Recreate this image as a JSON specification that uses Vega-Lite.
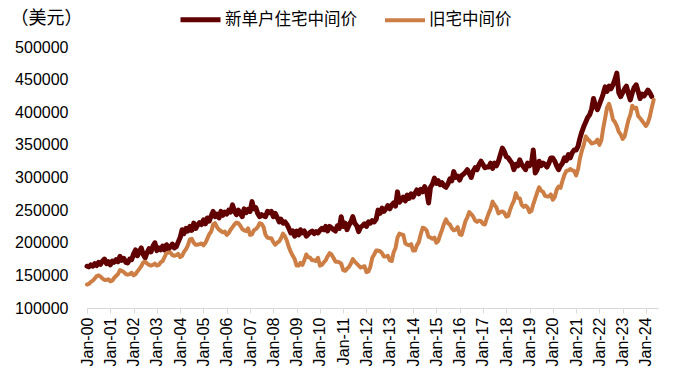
{
  "$schema": "https://vega.github.io/schema/vega-lite/v6.json",
  "autosize": "none",
  "width": 571,
  "height": 261,
  "padding": {"left": 87, "top": 47, "right": 38, "bottom": 70},
  "background": "white",
  "config": {"view": {"stroke": null}},
  "data": {"values": [
{"d":"2000-01-01","n":164000,"e":136000},{"d":"2000-02-01","n":163000,"e":137000},{"d":"2000-03-01","n":166000,"e":140000},{"d":"2000-04-01","n":164000,"e":142000},{"d":"2000-05-01","n":168000,"e":145000},{"d":"2000-06-01","n":165000,"e":149000},{"d":"2000-07-01","n":170000,"e":150000},{"d":"2000-08-01","n":167000,"e":148000},{"d":"2000-09-01","n":172000,"e":145000},{"d":"2000-10-01","n":175000,"e":143000},{"d":"2000-11-01","n":168000,"e":143000},{"d":"2000-12-01","n":171000,"e":144000},
{"d":"2001-01-01","n":166000,"e":141000},{"d":"2001-02-01","n":172000,"e":142000},{"d":"2001-03-01","n":170000,"e":146000},{"d":"2001-04-01","n":174000,"e":149000},{"d":"2001-05-01","n":171000,"e":152000},{"d":"2001-06-01","n":179000,"e":158000},{"d":"2001-07-01","n":173000,"e":157000},{"d":"2001-08-01","n":176000,"e":155000},{"d":"2001-09-01","n":170000,"e":152000},{"d":"2001-10-01","n":169000,"e":151000},{"d":"2001-11-01","n":175000,"e":152000},{"d":"2001-12-01","n":174000,"e":154000},
{"d":"2002-01-01","n":183000,"e":150000},{"d":"2002-02-01","n":189000,"e":152000},{"d":"2002-03-01","n":180000,"e":156000},{"d":"2002-04-01","n":186000,"e":160000},{"d":"2002-05-01","n":192000,"e":164000},{"d":"2002-06-01","n":182000,"e":170000},{"d":"2002-07-01","n":177000,"e":171000},{"d":"2002-08-01","n":185000,"e":168000},{"d":"2002-09-01","n":191000,"e":166000},{"d":"2002-10-01","n":186000,"e":165000},{"d":"2002-11-01","n":195000,"e":166000},{"d":"2002-12-01","n":200000,"e":168000},
{"d":"2003-01-01","n":188000,"e":165000},{"d":"2003-02-01","n":192000,"e":166000},{"d":"2003-03-01","n":189000,"e":170000},{"d":"2003-04-01","n":195000,"e":172000},{"d":"2003-05-01","n":189000,"e":178000},{"d":"2003-06-01","n":197000,"e":184000},{"d":"2003-07-01","n":190000,"e":185000},{"d":"2003-08-01","n":194000,"e":185000},{"d":"2003-09-01","n":198000,"e":181000},{"d":"2003-10-01","n":192000,"e":180000},{"d":"2003-11-01","n":194000,"e":181000},{"d":"2003-12-01","n":201000,"e":183000},
{"d":"2004-01-01","n":208000,"e":178000},{"d":"2004-02-01","n":220000,"e":180000},{"d":"2004-03-01","n":214000,"e":186000},{"d":"2004-04-01","n":222000,"e":190000},{"d":"2004-05-01","n":218000,"e":196000},{"d":"2004-06-01","n":225000,"e":205000},{"d":"2004-07-01","n":219000,"e":206000},{"d":"2004-08-01","n":230000,"e":200000},{"d":"2004-09-01","n":222000,"e":197000},{"d":"2004-10-01","n":227000,"e":197000},{"d":"2004-11-01","n":231000,"e":198000},{"d":"2004-12-01","n":228000,"e":199000},
{"d":"2005-01-01","n":235000,"e":196000},{"d":"2005-02-01","n":229000,"e":200000},{"d":"2005-03-01","n":238000,"e":206000},{"d":"2005-04-01","n":233000,"e":213000},{"d":"2005-05-01","n":241000,"e":217000},{"d":"2005-06-01","n":248000,"e":228000},{"d":"2005-07-01","n":240000,"e":230000},{"d":"2005-08-01","n":244000,"e":224000},{"d":"2005-09-01","n":238000,"e":220000},{"d":"2005-10-01","n":248000,"e":218000},{"d":"2005-11-01","n":242000,"e":216000},{"d":"2005-12-01","n":247000,"e":217000},
{"d":"2006-01-01","n":244000,"e":212000},{"d":"2006-02-01","n":250000,"e":215000},{"d":"2006-03-01","n":247000,"e":220000},{"d":"2006-04-01","n":258000,"e":224000},{"d":"2006-05-01","n":249000,"e":228000},{"d":"2006-06-01","n":243000,"e":231000},{"d":"2006-07-01","n":250000,"e":230000},{"d":"2006-08-01","n":245000,"e":226000},{"d":"2006-09-01","n":240000,"e":221000},{"d":"2006-10-01","n":252000,"e":219000},{"d":"2006-11-01","n":246000,"e":218000},{"d":"2006-12-01","n":251000,"e":222000},
{"d":"2007-01-01","n":248000,"e":212000},{"d":"2007-02-01","n":263000,"e":213000},{"d":"2007-03-01","n":252000,"e":219000},{"d":"2007-04-01","n":254000,"e":221000},{"d":"2007-05-01","n":245000,"e":224000},{"d":"2007-06-01","n":240000,"e":230000},{"d":"2007-07-01","n":243000,"e":229000},{"d":"2007-08-01","n":241000,"e":224000},{"d":"2007-09-01","n":240000,"e":212000},{"d":"2007-10-01","n":248000,"e":208000},{"d":"2007-11-01","n":246000,"e":207000},{"d":"2007-12-01","n":248000,"e":207000},
{"d":"2008-01-01","n":240000,"e":201000},{"d":"2008-02-01","n":245000,"e":197000},{"d":"2008-03-01","n":239000,"e":200000},{"d":"2008-04-01","n":232000,"e":202000},{"d":"2008-05-01","n":236000,"e":207000},{"d":"2008-06-01","n":230000,"e":214000},{"d":"2008-07-01","n":232000,"e":210000},{"d":"2008-08-01","n":228000,"e":203000},{"d":"2008-09-01","n":222000,"e":193000},{"d":"2008-10-01","n":215000,"e":186000},{"d":"2008-11-01","n":218000,"e":180000},{"d":"2008-12-01","n":210000,"e":175000},
{"d":"2009-01-01","n":218000,"e":165000},{"d":"2009-02-01","n":212000,"e":165000},{"d":"2009-03-01","n":220000,"e":169000},{"d":"2009-04-01","n":215000,"e":166000},{"d":"2009-05-01","n":218000,"e":173000},{"d":"2009-06-01","n":210000,"e":182000},{"d":"2009-07-01","n":213000,"e":178000},{"d":"2009-08-01","n":216000,"e":177000},{"d":"2009-09-01","n":218000,"e":173000},{"d":"2009-10-01","n":214000,"e":173000},{"d":"2009-11-01","n":217000,"e":172000},{"d":"2009-12-01","n":215000,"e":177000},
{"d":"2010-01-01","n":219000,"e":165000},{"d":"2010-02-01","n":222000,"e":166000},{"d":"2010-03-01","n":220000,"e":170000},{"d":"2010-04-01","n":225000,"e":173000},{"d":"2010-05-01","n":218000,"e":179000},{"d":"2010-06-01","n":225000,"e":184000},{"d":"2010-07-01","n":223000,"e":182000},{"d":"2010-08-01","n":220000,"e":177000},{"d":"2010-09-01","n":218000,"e":171000},{"d":"2010-10-01","n":226000,"e":171000},{"d":"2010-11-01","n":222000,"e":170000},{"d":"2010-12-01","n":240000,"e":168000},
{"d":"2011-01-01","n":225000,"e":158000},{"d":"2011-02-01","n":230000,"e":157000},{"d":"2011-03-01","n":220000,"e":160000},{"d":"2011-04-01","n":227000,"e":163000},{"d":"2011-05-01","n":232000,"e":168000},{"d":"2011-06-01","n":240000,"e":175000},{"d":"2011-07-01","n":230000,"e":171000},{"d":"2011-08-01","n":226000,"e":168000},{"d":"2011-09-01","n":217000,"e":165000},{"d":"2011-10-01","n":224000,"e":162000},{"d":"2011-11-01","n":226000,"e":163000},{"d":"2011-12-01","n":229000,"e":164000},
{"d":"2012-01-01","n":225000,"e":155000},{"d":"2012-02-01","n":232000,"e":156000},{"d":"2012-03-01","n":230000,"e":163000},{"d":"2012-04-01","n":234000,"e":177000},{"d":"2012-05-01","n":232000,"e":182000},{"d":"2012-06-01","n":236000,"e":188000},{"d":"2012-07-01","n":250000,"e":188000},{"d":"2012-08-01","n":245000,"e":187000},{"d":"2012-09-01","n":253000,"e":184000},{"d":"2012-10-01","n":248000,"e":179000},{"d":"2012-11-01","n":252000,"e":179000},{"d":"2012-12-01","n":257000,"e":180000},
{"d":"2013-01-01","n":252000,"e":173000},{"d":"2013-02-01","n":258000,"e":172000},{"d":"2013-03-01","n":261000,"e":185000},{"d":"2013-04-01","n":256000,"e":192000},{"d":"2013-05-01","n":278000,"e":208000},{"d":"2013-06-01","n":262000,"e":214000},{"d":"2013-07-01","n":266000,"e":213000},{"d":"2013-08-01","n":270000,"e":212000},{"d":"2013-09-01","n":264000,"e":199000},{"d":"2013-10-01","n":273000,"e":197000},{"d":"2013-11-01","n":268000,"e":196000},{"d":"2013-12-01","n":275000,"e":198000},
{"d":"2014-01-01","n":270000,"e":188000},{"d":"2014-02-01","n":276000,"e":188000},{"d":"2014-03-01","n":281000,"e":196000},{"d":"2014-04-01","n":275000,"e":201000},{"d":"2014-05-01","n":282000,"e":213000},{"d":"2014-06-01","n":278000,"e":223000},{"d":"2014-07-01","n":286000,"e":222000},{"d":"2014-08-01","n":280000,"e":219000},{"d":"2014-09-01","n":261000,"e":209000},{"d":"2014-10-01","n":285000,"e":208000},{"d":"2014-11-01","n":290000,"e":206000},{"d":"2014-12-01","n":299000,"e":208000},
{"d":"2015-01-01","n":291000,"e":200000},{"d":"2015-02-01","n":295000,"e":203000},{"d":"2015-03-01","n":289000,"e":212000},{"d":"2015-04-01","n":292000,"e":220000},{"d":"2015-05-01","n":287000,"e":229000},{"d":"2015-06-01","n":285000,"e":236000},{"d":"2015-07-01","n":290000,"e":230000},{"d":"2015-08-01","n":298000,"e":228000},{"d":"2015-09-01","n":295000,"e":222000},{"d":"2015-10-01","n":309000,"e":219000},{"d":"2015-11-01","n":300000,"e":220000},{"d":"2015-12-01","n":302000,"e":224000},
{"d":"2016-01-01","n":296000,"e":213000},{"d":"2016-02-01","n":303000,"e":212000},{"d":"2016-03-01","n":305000,"e":222000},{"d":"2016-04-01","n":308000,"e":233000},{"d":"2016-05-01","n":312000,"e":239000},{"d":"2016-06-01","n":306000,"e":247000},{"d":"2016-07-01","n":300000,"e":244000},{"d":"2016-08-01","n":310000,"e":240000},{"d":"2016-09-01","n":315000,"e":234000},{"d":"2016-10-01","n":312000,"e":232000},{"d":"2016-11-01","n":320000,"e":234000},{"d":"2016-12-01","n":325000,"e":233000},
{"d":"2017-01-01","n":320000,"e":229000},{"d":"2017-02-01","n":315000,"e":228000},{"d":"2017-03-01","n":316000,"e":237000},{"d":"2017-04-01","n":316000,"e":245000},{"d":"2017-05-01","n":322000,"e":252000},{"d":"2017-06-01","n":314000,"e":263000},{"d":"2017-07-01","n":322000,"e":258000},{"d":"2017-08-01","n":318000,"e":254000},{"d":"2017-09-01","n":325000,"e":245000},{"d":"2017-10-01","n":335000,"e":247000},{"d":"2017-11-01","n":345000,"e":248000},{"d":"2017-12-01","n":340000,"e":246000},
{"d":"2018-01-01","n":332000,"e":240000},{"d":"2018-02-01","n":330000,"e":241000},{"d":"2018-03-01","n":326000,"e":250000},{"d":"2018-04-01","n":322000,"e":258000},{"d":"2018-05-01","n":312000,"e":264000},{"d":"2018-06-01","n":320000,"e":276000},{"d":"2018-07-01","n":318000,"e":269000},{"d":"2018-08-01","n":327000,"e":268000},{"d":"2018-09-01","n":320000,"e":258000},{"d":"2018-10-01","n":316000,"e":255000},{"d":"2018-11-01","n":312000,"e":257000},{"d":"2018-12-01","n":322000,"e":254000},
{"d":"2019-01-01","n":318000,"e":247000},{"d":"2019-02-01","n":322000,"e":249000},{"d":"2019-03-01","n":342000,"e":259000},{"d":"2019-04-01","n":307000,"e":268000},{"d":"2019-05-01","n":312000,"e":277000},{"d":"2019-06-01","n":325000,"e":285000},{"d":"2019-07-01","n":318000,"e":280000},{"d":"2019-08-01","n":322000,"e":278000},{"d":"2019-09-01","n":320000,"e":272000},{"d":"2019-10-01","n":316000,"e":271000},{"d":"2019-11-01","n":322000,"e":271000},{"d":"2019-12-01","n":330000,"e":274000},
{"d":"2020-01-01","n":330000,"e":266000},{"d":"2020-02-01","n":325000,"e":270000},{"d":"2020-03-01","n":318000,"e":281000},{"d":"2020-04-01","n":312000,"e":286000},{"d":"2020-05-01","n":318000,"e":284000},{"d":"2020-06-01","n":322000,"e":295000},{"d":"2020-07-01","n":330000,"e":304000},{"d":"2020-08-01","n":326000,"e":310000},{"d":"2020-09-01","n":335000,"e":311000},{"d":"2020-10-01","n":330000,"e":313000},{"d":"2020-11-01","n":338000,"e":311000},{"d":"2020-12-01","n":342000,"e":310000},
{"d":"2021-01-01","n":342000,"e":303000},{"d":"2021-02-01","n":348000,"e":313000},{"d":"2021-03-01","n":360000,"e":329000},{"d":"2021-04-01","n":370000,"e":341000},{"d":"2021-05-01","n":378000,"e":350000},{"d":"2021-06-01","n":385000,"e":363000},{"d":"2021-07-01","n":392000,"e":359000},{"d":"2021-08-01","n":396000,"e":356000},{"d":"2021-09-01","n":405000,"e":352000},{"d":"2021-10-01","n":421000,"e":353000},{"d":"2021-11-01","n":410000,"e":354000},{"d":"2021-12-01","n":404000,"e":358000},
{"d":"2022-01-01","n":412000,"e":350000},{"d":"2022-02-01","n":420000,"e":357000},{"d":"2022-03-01","n":428000,"e":375000},{"d":"2022-04-01","n":439000,"e":391000},{"d":"2022-05-01","n":432000,"e":407000},{"d":"2022-06-01","n":440000,"e":413000},{"d":"2022-07-01","n":436000,"e":403000},{"d":"2022-08-01","n":442000,"e":389000},{"d":"2022-09-01","n":450000,"e":385000},{"d":"2022-10-01","n":460000,"e":379000},{"d":"2022-11-01","n":430000,"e":370000},{"d":"2022-12-01","n":424000,"e":366000},
{"d":"2023-01-01","n":430000,"e":359000},{"d":"2023-02-01","n":436000,"e":363000},{"d":"2023-03-01","n":440000,"e":375000},{"d":"2023-04-01","n":428000,"e":388000},{"d":"2023-05-01","n":419000,"e":396000},{"d":"2023-06-01","n":430000,"e":410000},{"d":"2023-07-01","n":438000,"e":406000},{"d":"2023-08-01","n":442000,"e":407000},{"d":"2023-09-01","n":432000,"e":394000},{"d":"2023-10-01","n":421000,"e":391000},{"d":"2023-11-01","n":428000,"e":387000},{"d":"2023-12-01","n":425000,"e":383000},
{"d":"2024-01-01","n":429000,"e":379000},{"d":"2024-02-01","n":434000,"e":384000},{"d":"2024-03-01","n":430000,"e":393000},{"d":"2024-04-01","n":424000,"e":407000},{"d":"2024-05-01","e":419000}
  ]},
  "transform": [
    {"fold": ["n", "e"], "as": ["k", "v"]},
    {"filter": "isValid(datum.v)"}
  ],
  "mark": {"type": "line", "strokeJoin": "round", "strokeCap": "round"},
  "encoding": {
    "x": {
      "field": "d", "type": "temporal",
      "scale": {"type": "utc", "domain": [{"year": 2000, "month": 1, "date": 1, "utc": true}, {"year": 2024, "month": 7, "date": 8, "utc": true}]},
      "axis": {
        "title": null, "grid": false, "format": "%b-%y",
        "values": [
          {"year":2000,"month":1,"date":1,"utc":true},{"year":2001,"month":1,"date":1,"utc":true},{"year":2002,"month":1,"date":1,"utc":true},{"year":2003,"month":1,"date":1,"utc":true},{"year":2004,"month":1,"date":1,"utc":true},{"year":2005,"month":1,"date":1,"utc":true},{"year":2006,"month":1,"date":1,"utc":true},{"year":2007,"month":1,"date":1,"utc":true},{"year":2008,"month":1,"date":1,"utc":true},{"year":2009,"month":1,"date":1,"utc":true},{"year":2010,"month":1,"date":1,"utc":true},{"year":2011,"month":1,"date":1,"utc":true},{"year":2012,"month":1,"date":1,"utc":true},{"year":2013,"month":1,"date":1,"utc":true},{"year":2014,"month":1,"date":1,"utc":true},{"year":2015,"month":1,"date":1,"utc":true},{"year":2016,"month":1,"date":1,"utc":true},{"year":2017,"month":1,"date":1,"utc":true},{"year":2018,"month":1,"date":1,"utc":true},{"year":2019,"month":1,"date":1,"utc":true},{"year":2020,"month":1,"date":1,"utc":true},{"year":2021,"month":1,"date":1,"utc":true},{"year":2022,"month":1,"date":1,"utc":true},{"year":2023,"month":1,"date":1,"utc":true},{"year":2024,"month":1,"date":1,"utc":true}
        ],
        "labelAngle": -90, "labelFont": "Liberation Sans", "labelFontSize": 16, "labelColor": "#000000",
        "labelPadding": 4, "labelOverlap": false, "labelFlush": false,
        "domainColor": "#d9d9d9", "tickColor": "#d9d9d9", "tickSize": 5
      }
    },
    "y": {
      "field": "v", "type": "quantitative",
      "scale": {"domain": [100000, 500000], "zero": false},
      "axis": {
        "title": "（美元）", "titleAngle": 0, "titleAlign": "left", "titleBaseline": "middle",
        "titleX": -77, "titleY": -29, "titleFont": "Noto Sans CJK SC", "titleFontSize": 18, "titleFontWeight": "normal", "titleColor": "#000000",
        "values": [100000, 150000, 200000, 250000, 300000, 350000, 400000, 450000, 500000],
        "format": "d", "grid": false, "domain": false, "ticks": false,
        "labelFont": "Liberation Sans", "labelFontSize": 16, "labelColor": "#000000", "labelPadding": 19
      }
    },
    "color": {
      "field": "k", "type": "nominal",
      "scale": {"domain": ["n", "e"], "range": ["#600000", "#CC7E45"]},
      "legend": {
        "orient": "none", "legendX": 91, "legendY": -50, "direction": "horizontal", "title": null,
        "symbolType": "stroke", "symbolSize": 1600, "symbolStrokeWidth": 5,
        "labelFont": "Noto Sans CJK SC", "labelFontSize": 16.5, "labelColor": "#000000",
        "labelOffset": 2, "columnPadding": 20,
        "labelExpr": "datum.value == 'n' ? '新单户住宅中间价' : '旧宅中间价'"
      }
    },
    "strokeWidth": {
      "field": "k", "type": "nominal",
      "scale": {"domain": ["n", "e"], "range": [5, 4]},
      "legend": null
    }
  }
}
